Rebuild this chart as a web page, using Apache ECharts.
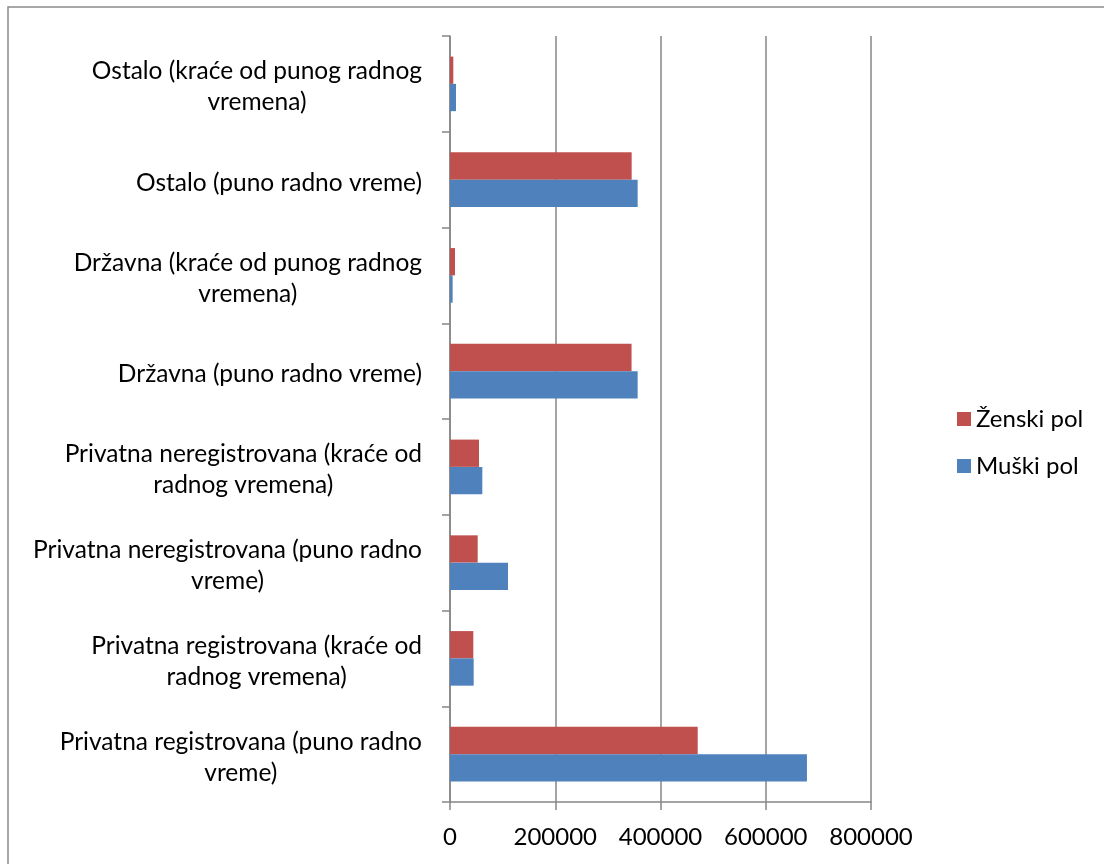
<!DOCTYPE html>
<html>
<head>
<meta charset="utf-8">
<script src="https://cdn.jsdelivr.net/npm/echarts@6/dist/echarts.min.js"></script>
<style>
  html, body { margin: 0; padding: 0; background: #fff; }
  #chart { width: 1104px; height: 864px; }
</style>
</head>
<body>
<div id="chart"></div>
<script>
// Categories, bottom to top
const categories = [
  'Privatna registrovana (puno radno\nvreme)',
  'Privatna registrovana (kraće od\nradnog vremena)',
  'Privatna neregistrovana (puno radno\nvreme)',
  'Privatna neregistrovana (kraće od\nradnog vremena)',
  'Državna (puno radno vreme)',
  'Državna (kraće od punog radnog\nvremena)',
  'Ostalo (puno radno vreme)',
  'Ostalo (kraće od punog radnog\nvremena)'
];
const zenskiPol = [470700, 44300, 52600, 55100, 345000, 9500, 345200, 6300];
const muskiPol = [678300, 45000, 110200, 61400, 356600, 5000, 356600, 11400];
const seriesNames = ['Ženski pol', 'Muški pol'];
const xTicks = [0, 200000, 400000, 600000, 800000];

const FONT = 'Lato';
const GRAY = '#868686';

const chart = echarts.init(document.getElementById('chart'), null, { renderer: 'canvas' });

chart.setOption({
  animation: false,
  backgroundColor: '#ffffff',
  graphic: [{
    type: 'rect',
    shape: { x: 8, y: 7, width: 1200, height: 1000 },
    style: { fill: 'none', stroke: '#8a8a8a', lineWidth: 1.5 },
    silent: true
  }],
  grid: { left: 450, right: 233, top: 36, bottom: 62, containLabel: false },
  legend: {
    data: seriesNames,
    orient: 'vertical',
    left: 952,
    top: 401,
    itemWidth: 14,
    itemHeight: 14,
    itemGap: 21,
    icon: 'rect',
    textStyle: { fontFamily: FONT, fontSize: 24, color: '#000', lineHeight: 26 }
  },
  xAxis: {
    type: 'value',
    min: xTicks[0],
    max: xTicks[xTicks.length - 1],
    interval: xTicks[1] - xTicks[0],
    axisLine: { show: true, lineStyle: { color: GRAY, width: 1.5 } },
    axisTick: { show: true, length: 8, lineStyle: { color: GRAY, width: 1.5 } },
    splitLine: { show: true, lineStyle: { color: GRAY, width: 1.5 } },
    axisLabel: {
      fontFamily: FONT, fontSize: 24, color: '#000', margin: 23,
      formatter: function (v) { return String(v); }
    }
  },
  yAxis: {
    type: 'category',
    data: categories,
    axisLine: { show: true, lineStyle: { color: GRAY, width: 1.5 } },
    axisTick: { show: true, length: 8, lineStyle: { color: GRAY, width: 1.5 } },
    axisLabel: {
      margin: 28,
      padding: [6, 0, 0, 0],
      formatter: function (v) {
        return v.split('\n').map(function (s) { return '{c|' + s + '}'; }).join('\n');
      },
      rich: {
        c: { fontFamily: FONT, fontSize: 24.5, color: '#000', align: 'center', lineHeight: 31 }
      }
    }
  },
  series: [
    {
      name: 'Ženski pol',
      type: 'bar',
      data: zenskiPol,
      itemStyle: { color: '#C0504D' },
      barGap: '0%',
      barCategoryGap: '43%'
    },
    {
      name: 'Muški pol',
      type: 'bar',
      data: muskiPol,
      itemStyle: { color: '#4F81BD' },
      barGap: '0%',
      barCategoryGap: '43%'
    }
  ]
});
</script>
</body>
</html>
